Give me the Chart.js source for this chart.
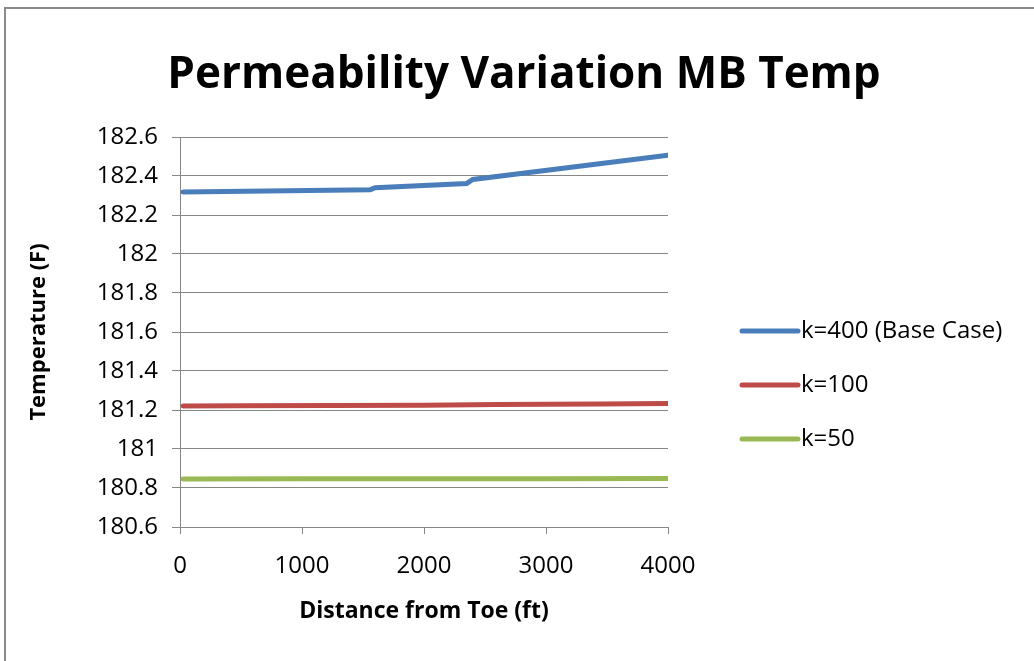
<!DOCTYPE html>
<html>
<head>
<meta charset="utf-8">
<title>Permeability Variation MB Temp</title>
<script src="https://cdn.jsdelivr.net/npm/chart.js@4.4.1/dist/chart.umd.min.js"></script>
<style>
  html, body { margin: 0; padding: 0; background: #ffffff; }
  #wrap { position: relative; width: 1034px; height: 661px; overflow: hidden; }
  #wrap canvas { position: absolute; left: 0; top: 0; }
  /* thin grey frame round the chart object */
  .frame {
    position: absolute; left: 4px; top: 7px; width: 1100px; height: 700px;
    border-left: 2px solid #8a8a8a; border-top: 2px solid #8a8a8a;
    pointer-events: none;
  }
</style>
</head>
<body>
<div id="wrap">
  <canvas id="chart" width="1034" height="661"></canvas>
  <div class="frame"></div>
</div>
<script>
const chartTitle = "Permeability Variation MB Temp";
const xTitle = "Distance from Toe (ft)";
const yTitle = "Temperature (F)";

const seriesNames = ["k=400 (Base Case)", "k=100", "k=50"];
const seriesColors = ["#4A7EBB", "#BE4B48", "#98B954"];

// distance (ft) / temperature (F) pairs
const k400Dist = [25, 1560, 1600, 2350, 2400, 4000];
const k400Temp = [182.318, 182.330, 182.340, 182.362, 182.382, 182.507];

const k100Dist = [25, 500, 2000, 2600, 3000, 3450, 4000];
const k100Temp = [181.221, 181.222, 181.225, 181.228, 181.229, 181.231, 181.233];

const k50Dist = [25, 1000, 3000, 4000];
const k50Temp = [180.846, 180.847, 180.848, 180.849];

const xTicks = [0, 1000, 2000, 3000, 4000];
const yMin = 180.6, yMax = 182.6, yStep = 0.2;

const FONT = "'Open Sans', 'DejaVu Sans', sans-serif";
const GRID = "#868686";

function toPoints(xs, ys) {
  return xs.map((x, i) => ({ x: x, y: ys[i] }));
}

const allSeries = [
  toPoints(k400Dist, k400Temp),
  toPoints(k100Dist, k100Temp),
  toPoints(k50Dist, k50Temp),
];

// Title and legend are painted by hand so they sit where the layout wants them
const decorations = {
  id: "decorations",
  afterDraw(chart) {
    const ctx = chart.ctx;
    ctx.save();
    ctx.fillStyle = "#000000";
    ctx.textAlign = "center";
    ctx.textBaseline = "alphabetic";
    ctx.font = "bold 44px " + FONT;
    ctx.fillText(chartTitle, 524, 88);

    ctx.textAlign = "left";
    ctx.textBaseline = "middle";
    ctx.font = "24px " + FONT;
    chart.data.datasets.forEach((ds, i) => {
      const y = 331 + i * 54;
      ctx.strokeStyle = ds.borderColor;
      ctx.lineWidth = 5;
      ctx.lineCap = "round";
      ctx.beginPath();
      ctx.moveTo(742, y);
      ctx.lineTo(798, y);
      ctx.stroke();
      ctx.fillStyle = "#000000";
      ctx.fillText(ds.label, 801, y);
    });
    ctx.restore();
  },
};

new Chart(document.getElementById("chart"), {
  type: "scatter",
  data: {
    datasets: allSeries.map((pts, i) => ({
      label: seriesNames[i],
      data: pts,
      showLine: true,
      borderColor: seriesColors[i],
      backgroundColor: seriesColors[i],
      borderWidth: 5,
      pointRadius: 0,
      tension: 0,
      borderCapStyle: "round",
    })),
  },
  options: {
    responsive: false,
    animation: false,
    layout: { padding: { left: 0, right: 366, top: 137, bottom: 0 } },
    plugins: {
      legend: { display: false },
      title: { display: false },
      tooltip: { enabled: false },
    },
    scales: {
      x: {
        type: "linear",
        min: 0,
        max: 4000,
        afterBuildTicks: (scale) => {
          scale.ticks = xTicks.map((v) => ({ value: v }));
        },
        afterFit: (scale) => { scale.height = 134; },
        border: { display: true, color: GRID, width: 1 },
        grid: { drawOnChartArea: false, drawTicks: true, tickLength: 7, color: GRID },
        ticks: {
          color: "#000000",
          padding: 18,
          maxRotation: 0,
          font: { family: FONT, size: 24 },
          callback: (v) => String(v),
        },
        title: {
          display: true,
          text: xTitle,
          color: "#000000",
          padding: { top: 0, bottom: 36 },
          font: { family: FONT, size: 23, weight: "bold" },
        },
      },
      y: {
        min: yMin,
        max: yMax,
        ticks: {
          stepSize: yStep,
          color: "#000000",
          padding: 14,
          font: { family: FONT, size: 24 },
          callback: (v) => String(+v.toFixed(1)),
        },
        afterFit: (scale) => { scale.width = 180; },
        border: { display: true, color: GRID, width: 1 },
        grid: { color: GRID, lineWidth: 1, tickLength: 8 },
        title: {
          display: true,
          text: yTitle,
          color: "#000000",
          padding: { top: 26, bottom: 0 },
          font: { family: FONT, size: 22, weight: "bold" },
        },
      },
    },
  },
  plugins: [decorations],
});
</script>
</body>
</html>
